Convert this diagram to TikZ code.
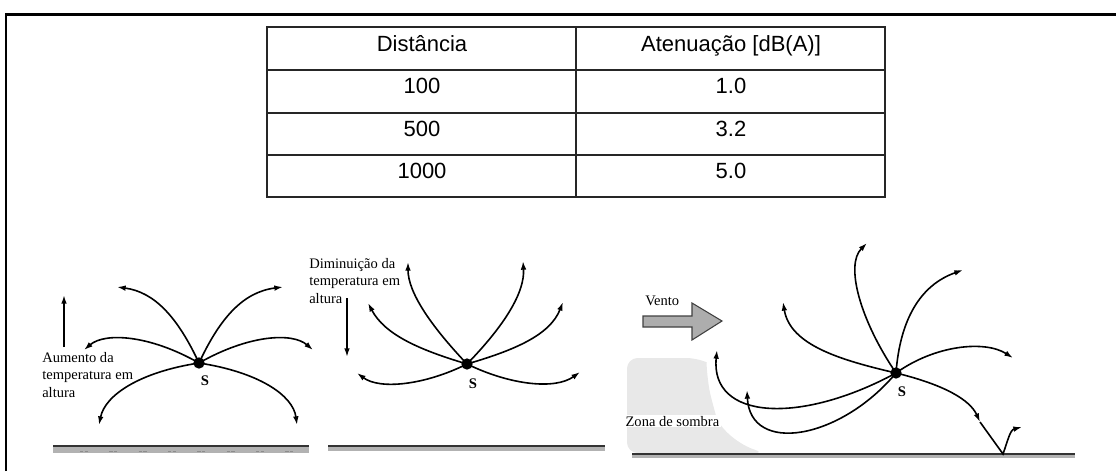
\documentclass[tikz,border=0pt]{standalone}
\usepackage{fontspec}
\setmainfont{Liberation Serif}
\newfontfamily\tabfont{Liberation Sans}
\usetikzlibrary{arrows.meta}
\definecolor{groundgray}{gray}{0.70}
\definecolor{shadowgray}{gray}{0.91}
\definecolor{windgray}{gray}{0.68}

\begin{document}
\begin{tikzpicture}[x=0.75pt, y=-0.75pt,
  ray/.style={line width=1.2pt, -{Latex[length=6.5pt,width=4.2pt]}},
  src/.style={circle, fill=black, inner sep=0pt, minimum size=8.5pt},
  slabel/.style={font=\fontsize{11}{13}\selectfont\bfseries, inner sep=0pt},
  note/.style={font=\fontsize{10.9}{13}\selectfont, align=left, inner sep=0pt, anchor=north west},
  cell/.style={font=\tabfont\fontsize{16.5}{19}\selectfont, inner sep=0pt, anchor=base},
  grid/.style={line width=0.9pt, black!85}]

\useasboundingbox (0,0) rectangle (1116,471);

% frame
\draw[line width=1.8pt] (6,471) -- (6,14.5) -- (1116,14.5);

% table
\draw[grid] (267,27) rectangle (885,197);
\foreach \y in {70,113,155}
  \draw[grid] (267,\y) -- (885,\y);
\draw[grid] (576,27) -- (576,197);
\node[cell] (hd) at (422,51) {Distância};
\node[cell] (ha) at (731,51) {Atenuação [dB(A)]};
\foreach \d/\a [count=\i] in {100/1.0, 500/3.2, 1000/5.0} {
  \node[cell] (d\i) at (422,51+42.6*\i) {\d};
  \node[cell] (a\i) at (731,51+42.6*\i) {\a};
}

% ground lines
\fill[groundgray] (53,446) rectangle (309,453);
\draw[line width=1.4pt, black!80] (53,446) -- (309,446);
\draw[black!45, line width=0.4pt, dash pattern=on 2.5pt off 1pt on 2.5pt off 16pt] (80,451) -- (305,451);
\fill[groundgray] (328,446) rectangle (605,451);
\draw[line width=1.4pt, black!80] (328,446) -- (605,446);
\fill[shadowgray, rounded corners=8pt] (627,453) -- (627,358) -- (697,358)
  .. controls (706,362) and (708,385) .. (713,405)
  .. controls (720,430) and (740,445) .. (765,453) -- cycle;
\fill[groundgray] (632,454) rectangle (1075,458);
\draw[line width=1.4pt, black!80] (632,454) -- (1075,454);

% left: temperature rising with height
\node[src] (s1) at (199,363) {};
\node[slabel] (l1) at (205,381) {S};
\coordinate (s1ul) at (117,287);
\coordinate (s1ur) at (283,287);
\coordinate (s1l) at (84,350);
\coordinate (s1r) at (313,350);
\coordinate (s1dl) at (99,425);
\coordinate (s1dr) at (297,425);
\draw[ray] (s1.center) .. controls (178,318) and (155,292) .. (s1ul);
\draw[ray] (s1.center) .. controls (220,318) and (243,292) .. (s1ur);
\draw[ray] (s1.center) .. controls (150,335) and (105,332) .. (s1l);
\draw[ray] (s1.center) .. controls (248,335) and (292,332) .. (s1r);
\draw[ray] (s1.center) .. controls (140,372) and (105,395) .. (s1dl);
\draw[ray] (s1.center) .. controls (258,372) and (293,395) .. (s1dr);
\coordinate (up0) at (64,347);
\coordinate (up1) at (64,295);
\draw[ray] (up0) -- (up1);
\node[note] (t1) at (42,352) {Aumento da\\temperatura em\\altura};

% middle: temperature falling with height
\node[src] (s2) at (467,364) {};
\node[slabel] (l2) at (473,384) {S};
\coordinate (s2l) at (357,373);
\coordinate (s2r) at (580,372);
\coordinate (s2ml) at (368,303);
\coordinate (s2mr) at (563,302);
\coordinate (s2ul) at (408,262);
\coordinate (s2ur) at (523,261);
\draw[ray] (s2.center) .. controls (425,385) and (380,390) .. (s2l);
\draw[ray] (s2.center) .. controls (510,385) and (555,390) .. (s2r);
\draw[ray] (s2.center) .. controls (420,350) and (385,335) .. (s2ml);
\draw[ray] (s2.center) .. controls (515,350) and (550,335) .. (s2mr);
\draw[ray] (s2.center) .. controls (430,325) and (408,292) .. (s2ul);
\draw[ray] (s2.center) .. controls (505,325) and (525,292) .. (s2ur);
\coordinate (dn0) at (347,298);
\coordinate (dn1) at (347,357);
\draw[ray] (dn0) -- (dn1);
\node[note] (t2) at (309,258) {Diminuição da\\temperatura em\\altura};

% right: wind
\draw[fill=windgray, draw=black!75, line width=0.8pt]
  (643,316) -- (692,316) -- (692,303) -- (722,321) -- (692,340) -- (692,327) -- (643,327) -- cycle;
\node[font=\fontsize{10.9}{13}\selectfont, inner sep=0pt, anchor=base west] (vt) at (645,305) {Vento};
\node[font=\fontsize{10.9}{13}\selectfont, inner sep=1pt, fill=white, anchor=base west] (zs) at (624,426) {Zona de sombra};
\node[src] (s3) at (896,373) {};
\node[slabel] (l3) at (902,392) {S};
\coordinate (s3a) at (867,243);
\coordinate (s3b) at (963,270);
\coordinate (s3c) at (1013,358);
\coordinate (s3d) at (783,302);
\coordinate (s3e) at (717,350);
\coordinate (s3f) at (747,390);
\coordinate (s3g) at (980,422);
\coordinate (gnd) at (1003,454);
\coordinate (s3h) at (1022,427);
\draw[ray] (s3.center) .. controls (860,320) and (845,265) .. (s3a);
\draw[ray] (s3.center) .. controls (900,320) and (920,285) .. (s3b);
\draw[ray] (s3.center) .. controls (935,345) and (985,340) .. (s3c);
\draw[ray] (s3.center) .. controls (840,360) and (790,345) .. (s3d);
\draw[ray] (s3.center) .. controls (800,425) and (710,420) .. (s3e);
\draw[ray] (s3.center) .. controls (840,440) and (750,455) .. (s3f);
\draw[ray] (s3.center) .. controls (945,385) and (970,400) .. (s3g);
\draw[ray] (s3g) -- (gnd) .. controls (1008,440) and (1010,430) .. (s3h);
\end{tikzpicture}
\end{document}
